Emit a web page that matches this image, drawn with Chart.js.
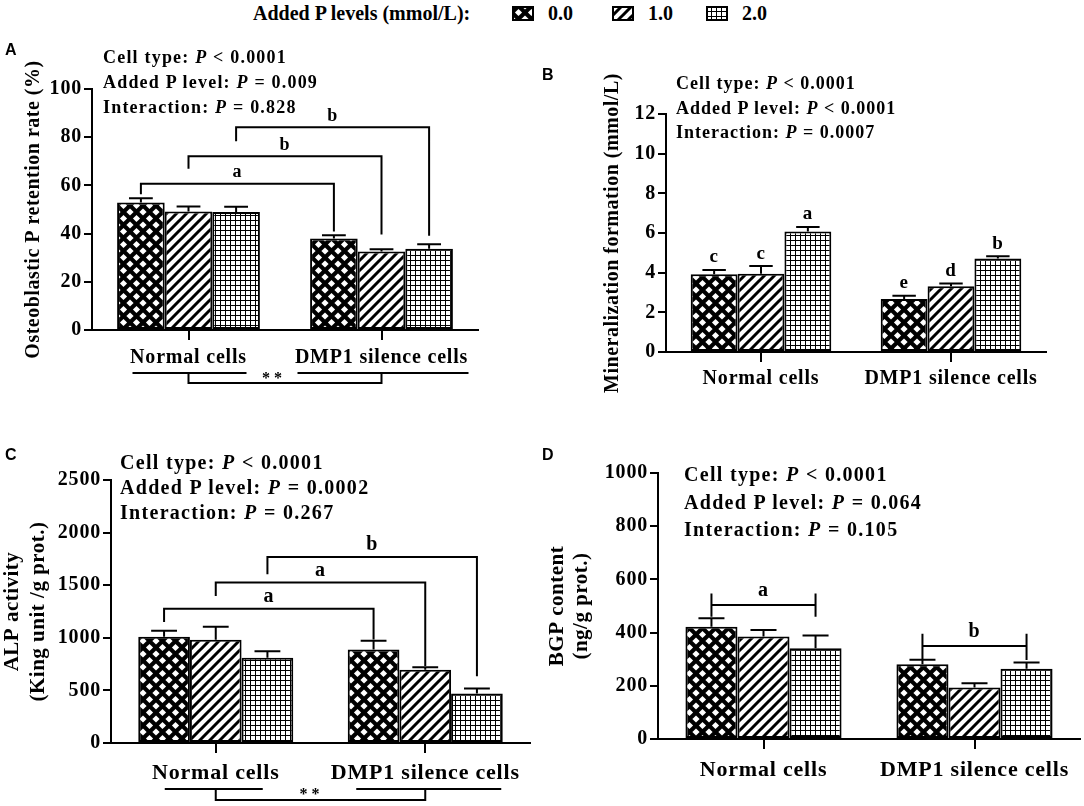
<!DOCTYPE html>
<html>
<head>
<meta charset="utf-8">
<title>Added P levels and DMP1 silence cells</title>
<script src="https://cdn.jsdelivr.net/npm/chart.js@4.4.1/dist/chart.umd.min.js"></script>
<style>
    body { margin: 0; width: 1084px; height: 806px; position: relative; overflow: hidden; background: #fff; color: #000; }
    canvas { position: absolute; }
    .txt { position: absolute; font-family: 'Liberation Serif', 'Times New Roman', serif; font-weight: bold; white-space: nowrap; }
    .letter { position: absolute; font: bold 16px 'Liberation Sans', Arial, sans-serif; line-height: 16px; }
</style>
</head>
<body>
<canvas id="chartA" width="540" height="370" style="left:0;top:30px"></canvas>
<canvas id="chartB" width="544" height="370" style="left:540px;top:30px"></canvas>
<canvas id="chartC" width="540" height="386" style="left:0;top:420px"></canvas>
<canvas id="chartD" width="544" height="386" style="left:540px;top:420px"></canvas>

<!-- legend -->
<div class="txt" style="left:253px;top:1px;font-size:20px;line-height:24px">Added P levels (mmol/L):</div>
<canvas id="sw0" width="22" height="15" style="left:512px;top:6px"></canvas>
<div class="txt" style="left:548px;top:1px;font-size:20px;line-height:24px">0.0</div>
<canvas id="sw1" width="22" height="15" style="left:612px;top:6px"></canvas>
<div class="txt" style="left:648px;top:1px;font-size:20px;line-height:24px">1.0</div>
<canvas id="sw2" width="22" height="15" style="left:706px;top:6px"></canvas>
<div class="txt" style="left:742px;top:1px;font-size:20px;line-height:24px">2.0</div>

<!-- panel letters -->
<div class="letter" style="left:5px;top:42px">A</div>
<div class="letter" style="left:542px;top:67px">B</div>
<div class="letter" style="left:5px;top:447px">C</div>
<div class="letter" style="left:542px;top:447px">D</div>

<!-- two-way ANOVA results -->
<div class="txt" style="left:103px;top:45px;font-size:18px;line-height:25px;letter-spacing:1.2px">Cell type: <i>P</i> &lt; 0.0001<br>Added P level: <i>P</i> = 0.009<br>Interaction: <i>P</i> = 0.828</div>
<div class="txt" style="left:676px;top:71px;font-size:18px;line-height:24.5px;letter-spacing:1px">Cell type: <i>P</i> &lt; 0.0001<br>Added P level: <i>P</i> &lt; 0.0001<br>Interaction: <i>P</i> = 0.0007</div>
<div class="txt" style="left:120px;top:450px;font-size:20px;line-height:25px;letter-spacing:1.3px">Cell type: <i>P</i> &lt; 0.0001<br>Added P level: <i>P</i> = 0.0002<br>Interaction: <i>P</i> = 0.267</div>
<div class="txt" style="left:684px;top:461px;font-size:20px;line-height:27.5px;letter-spacing:1.3px">Cell type: <i>P</i> &lt; 0.0001<br>Added P level: <i>P</i> = 0.064<br>Interaction: <i>P</i> = 0.105</div>

<script>
// ==================== Data ====================
const cellTypes = ['Normal cells', 'DMP1 silence cells'];
const pLevels = ['0.0', '1.0', '2.0'];

// A: osteoblastic P retention rate (%), one row per added P level
const retentionMean = [[52.9, 38.0], [49.2, 32.6], [49.0, 33.7]];
const retentionSem = [[1.8, 1.3], [2.0, 0.9], [2.1, 1.9]];
const retentionTicks = [0, 20, 40, 60, 80, 100];

// B: mineralization formation (mmol/L)
const mineralMean = [[3.92, 2.67], [3.95, 3.32], [6.08, 4.72]];
const mineralSem = [[0.21, 0.16], [0.38, 0.13], [0.22, 0.11]];
const mineralLetters = [['c', 'e'], ['c', 'd'], ['a', 'b']];
const mineralTicks = [0, 2, 4, 6, 8, 10, 12];

// C: ALP activity (King unit /g prot.)
const alpMean = [[1010, 889], [981, 696], [810, 470]];
const alpSem = [[57, 83], [124, 25], [63, 48]];
const alpTicks = [0, 500, 1000, 1500, 2000, 2500];

// D: BGP content (ng/g prot.)
const bgpMean = [[422, 281], [385, 194], [341, 264]];
const bgpSem = [[32, 17], [25, 16], [48, 24]];
const bgpTicks = [0, 200, 400, 600, 800, 1000];

// same P level, normal vs DMP1 silence cells
const retentionBrackets = [
    { level: 0, label: 'a', top: 60.7, leftEnd: 56.3, rightEnd: 40.9 },
    { level: 1, label: 'b', top: 72.1, leftEnd: 66.9, rightEnd: 39.6 },
    { level: 2, label: 'b', top: 84.1, leftEnd: 78.3, rightEnd: 39.1 }
];
const alpBrackets = [
    { level: 0, label: 'a', top: 1277, leftEnd: 1150, rightEnd: 985 },
    { level: 1, label: 'a', top: 1525, leftEnd: 1398, rightEnd: 731 },
    { level: 2, label: 'b', top: 1769, leftEnd: 1604, rightEnd: 635 }
];
// 0.0 vs 2.0 inside one cell type
const bgpBrackets = [
    { cell: 0, label: 'a', at: 504, high: 547, low: 460 },
    { cell: 1, label: 'b', at: 350, high: 396, low: 297 }
];

// ==================== Defaults ====================
Chart.defaults.font.family = "'Liberation Serif', 'Times New Roman', serif";
Chart.defaults.font.weight = 'bold';
Chart.defaults.color = '#000';

const serif = "'Liberation Serif', 'Times New Roman', serif";

// ==================== Fill patterns ====================
function makePatterns(ctx) {
    const tile = (w, h, draw) => {
        const c = document.createElement('canvas');
        c.width = w;
        c.height = h;
        draw(c.getContext('2d'), w, h);
        return ctx.createPattern(c, 'repeat');
    };

    // black with white diamonds
    const diamonds = tile(13, 13, (g, w, h) => {
        g.fillStyle = '#000';
        g.fillRect(0, 0, w, h);
        g.fillStyle = '#fff';
        const r = 3.6;
        [[0, 0], [w, 0], [0, h], [w, h], [w / 2, h / 2]].forEach(([x, y]) => {
            g.beginPath();
            g.moveTo(x, y - r);
            g.lineTo(x + r, y);
            g.lineTo(x, y + r);
            g.lineTo(x - r, y);
            g.closePath();
            g.fill();
        });
    });

    // diagonal stripes
    const stripes = tile(10, 10, (g, w, h) => {
        g.fillStyle = '#fff';
        g.fillRect(0, 0, w, h);
        g.strokeStyle = '#000';
        g.lineWidth = 3;
        g.beginPath();
        for (let k = -1; k <= 1; k++) {
            g.moveTo(k * w - 1, h + 1);
            g.lineTo(k * w + w + 1, -1);
        }
        g.stroke();
    });

    // fine square grid
    const grid = tile(5, 5, (g, w, h) => {
        g.fillStyle = '#fff';
        g.fillRect(0, 0, w, h);
        g.fillStyle = '#000';
        g.fillRect(0, 0, w, 1);
        g.fillRect(0, 0, 1, h);
    });

    return [diamonds, stripes, grid];
}

// ==================== Plugins ====================
// wider letter spacing for axis text, like the original export
const spacedText = {
    id: 'spacedText',
    beforeDraw(chart) { chart.ctx.letterSpacing = '0.8px'; },
    afterDraw(chart) { chart.ctx.letterSpacing = '0px'; }
};

const errorBars = {
    id: 'errorBars',
    afterDatasetsDraw(chart) {
        const { ctx } = chart;
        const y = chart.scales.y;
        ctx.save();
        ctx.strokeStyle = '#000';
        ctx.lineWidth = 2;
        chart.data.datasets.forEach((ds, i) => {
            chart.getDatasetMeta(i).data.forEach((bar, j) => {
                const top = y.getPixelForValue(ds.data[j] + ds.sem[j]);
                const half = bar.width / 4;
                ctx.beginPath();
                ctx.moveTo(bar.x, bar.y);
                ctx.lineTo(bar.x, top);
                ctx.moveTo(bar.x - half, top);
                ctx.lineTo(bar.x + half, top);
                ctx.stroke();
            });
        });
        ctx.restore();
    }
};

const yTitle = {
    id: 'yTitle',
    afterDraw(chart, args, opts) {
        const { ctx, chartArea } = chart;
        const cy = (chartArea.top + chartArea.bottom) / 2;
        ctx.save();
        ctx.font = `bold ${opts.size}px ${serif}`;
        ctx.letterSpacing = opts.spacing || '0px';
        ctx.fillStyle = '#000';
        ctx.textAlign = 'center';
        ctx.textBaseline = 'middle';
        opts.lines.forEach((line, i) => {
            ctx.save();
            ctx.translate(opts.x[i], cy);
            ctx.rotate(-Math.PI / 2);
            ctx.fillText(line, 0, 0);
            ctx.restore();
        });
        ctx.restore();
    }
};

// letters straight above each error bar (panel B)
const barLetters = {
    id: 'barLetters',
    afterDatasetsDraw(chart, args, opts) {
        if (!opts.letters) return;
        const { ctx } = chart;
        const y = chart.scales.y;
        ctx.save();
        ctx.font = `bold ${opts.size}px ${serif}`;
        ctx.fillStyle = '#000';
        ctx.textAlign = 'center';
        ctx.textBaseline = 'bottom';
        chart.data.datasets.forEach((ds, i) => {
            chart.getDatasetMeta(i).data.forEach((bar, j) => {
                const top = y.getPixelForValue(ds.data[j] + ds.sem[j]);
                ctx.fillText(opts.letters[i][j], bar.x, top - 3);
            });
        });
        ctx.restore();
    }
};

// bracket from a bar of normal cells to the same bar of DMP1 cells (A, C)
const levelBrackets = {
    id: 'levelBrackets',
    afterDatasetsDraw(chart, args, opts) {
        if (!opts.items) return;
        const { ctx } = chart;
        const y = chart.scales.y;
        ctx.save();
        ctx.strokeStyle = '#000';
        ctx.fillStyle = '#000';
        ctx.lineWidth = 2;
        ctx.font = `bold ${opts.size}px ${serif}`;
        ctx.textAlign = 'center';
        ctx.textBaseline = 'bottom';
        opts.items.forEach(b => {
            const bars = chart.getDatasetMeta(b.level).data;
            const lx = bars[0].x, rx = bars[1].x;
            const ty = y.getPixelForValue(b.top);
            ctx.beginPath();
            ctx.moveTo(lx, y.getPixelForValue(b.leftEnd));
            ctx.lineTo(lx, ty);
            ctx.lineTo(rx, ty);
            ctx.lineTo(rx, y.getPixelForValue(b.rightEnd));
            ctx.stroke();
            ctx.fillText(b.label, (lx + rx) / 2, ty - 2);
        });
        ctx.restore();
    }
};

// bracket spanning the 0.0 and 2.0 bars of one cell type (D)
const spanBrackets = {
    id: 'spanBrackets',
    afterDatasetsDraw(chart, args, opts) {
        if (!opts.items) return;
        const { ctx } = chart;
        const y = chart.scales.y;
        ctx.save();
        ctx.strokeStyle = '#000';
        ctx.fillStyle = '#000';
        ctx.lineWidth = 2;
        ctx.font = `bold ${opts.size}px ${serif}`;
        ctx.textAlign = 'center';
        ctx.textBaseline = 'bottom';
        opts.items.forEach(b => {
            const lx = chart.getDatasetMeta(0).data[b.cell].x;
            const rx = chart.getDatasetMeta(2).data[b.cell].x;
            const yy = y.getPixelForValue(b.at);
            const hi = y.getPixelForValue(b.high), lo = y.getPixelForValue(b.low);
            ctx.beginPath();
            ctx.moveTo(lx, yy);
            ctx.lineTo(rx, yy);
            ctx.moveTo(lx, hi);
            ctx.lineTo(lx, lo);
            ctx.moveTo(rx, hi);
            ctx.lineTo(rx, lo);
            ctx.stroke();
            ctx.fillText(b.label, (lx + rx) / 2, yy - 4);
        });
        ctx.restore();
    }
};

// underlines below the cell labels joined by a ** bracket (A, C)
const cellTypeBracket = {
    id: 'cellTypeBracket',
    afterDraw(chart, args, opts) {
        if (!opts.under) return;
        const { ctx, chartArea } = chart;
        const x = chart.scales.x;
        const x0 = x.getPixelForValue(0), x1 = x.getPixelForValue(1);
        const ly = chartArea.bottom + opts.lineDy;
        const by = chartArea.bottom + opts.dropDy;
        const u = opts.under;
        ctx.save();
        ctx.strokeStyle = '#000';
        ctx.fillStyle = '#000';
        ctx.lineWidth = 2;
        ctx.beginPath();
        ctx.moveTo(x0 + u[0], ly);
        ctx.lineTo(x0 + u[1], ly);
        ctx.moveTo(x1 + u[2], ly);
        ctx.lineTo(x1 + u[3], ly);
        ctx.moveTo(x0, ly);
        ctx.lineTo(x0, by);
        ctx.lineTo(x1, by);
        ctx.lineTo(x1, ly);
        ctx.stroke();
        ctx.font = `bold 16px ${serif}`;
        ctx.textAlign = 'center';
        ctx.textBaseline = 'alphabetic';
        ctx.fillText('* *', (x0 + u[1] + x1 + u[2]) / 2, ly + 10);
        ctx.restore();
    }
};

// ==================== Chart factory ====================
// box.canvas = [left, top, width, height], box.plot = [left, top, right, bottom], page px
function makeChart(id, box, cfg) {
    const ctx = document.getElementById(id).getContext('2d');
    const patterns = makePatterns(ctx);
    const [cl, ct, cw, ch] = box.canvas;
    const [pl, pt, pr, pb] = box.plot;

    const datasets = pLevels.map((lvl, i) => ({
        label: lvl,
        data: cfg.means[i],
        sem: cfg.sems[i],
        backgroundColor: patterns[i],
        borderColor: '#000',
        borderWidth: 2,
        borderSkipped: false,
        categoryPercentage: 0.74,
        barPercentage: 1.0
    }));

    return new Chart(ctx, {
        type: 'bar',
        data: { labels: cellTypes, datasets },
        options: {
            responsive: false,
            animation: false,
            layout: { padding: { left: 0, top: pt - ct, right: cl + cw - pr, bottom: 0 } },
            plugins: {
                legend: { display: false },
                tooltip: { enabled: false },
                yTitle: cfg.yTitle,
                barLetters: cfg.barLetters || {},
                levelBrackets: cfg.levelBrackets || {},
                spanBrackets: cfg.spanBrackets || {},
                cellTypeBracket: cfg.cellTypeBracket || {}
            },
            scales: {
                x: {
                    afterFit: s => { s.height = ct + ch - pb; },
                    grid: { offset: false, drawOnChartArea: false, tickLength: 10, lineWidth: 2, color: '#000' },
                    border: { color: '#000', width: 2 },
                    ticks: { font: { size: cfg.xFont, weight: 'bold' }, color: '#000', padding: cfg.xPad, maxRotation: 0 }
                },
                y: {
                    min: cfg.ticks[0],
                    max: cfg.ticks[cfg.ticks.length - 1],
                    afterFit: s => { s.width = pl - cl; },
                    afterBuildTicks: s => { s.ticks = cfg.ticks.map(v => ({ value: v })); },
                    grid: { drawOnChartArea: false, tickLength: 8, lineWidth: 2, color: '#000' },
                    border: { color: '#000', width: 2 },
                    ticks: {
                        font: { size: 20, weight: 'bold' },
                        color: '#000',
                        padding: 2,
                        callback: v => String(v)
                    }
                }
            }
        },
        plugins: [spacedText, errorBars, yTitle, barLetters, levelBrackets, spanBrackets, cellTypeBracket]
    });
}

// ==================== Panels ====================
makeChart('chartA', { canvas: [0, 30, 540, 370], plot: [92, 89, 478, 330] }, {
    means: retentionMean, sems: retentionSem, ticks: retentionTicks,
    xFont: 20, xPad: 6,
    yTitle: { lines: ['Osteoblastic P retention rate (%)'], x: [34], size: 20, spacing: '0.5px' },
    levelBrackets: { items: retentionBrackets, size: 18 },
    cellTypeBracket: { under: [-56, 58, -84, 87], lineDy: 43, dropDy: 53 }
});

makeChart('chartB', { canvas: [540, 30, 544, 370], plot: [666, 114, 1046, 352] }, {
    means: mineralMean, sems: mineralSem, ticks: mineralTicks,
    xFont: 20, xPad: 5,
    yTitle: { lines: ['Mineralization formation (mmol/L)'], x: [73], size: 20, spacing: '0.5px' },
    barLetters: { letters: mineralLetters, size: 19 }
});

makeChart('chartC', { canvas: [0, 420, 540, 386], plot: [111, 480, 530, 743] }, {
    means: alpMean, sems: alpSem, ticks: alpTicks,
    xFont: 22, xPad: 7,
    yTitle: { lines: ['ALP activity', '(King unit /g prot.)'], x: [13, 39], size: 21, spacing: '0.5px' },
    levelBrackets: { items: alpBrackets, size: 20 },
    cellTypeBracket: { under: [-51, 47, -69, 76], lineDy: 46, dropDy: 57 }
});

makeChart('chartD', { canvas: [540, 420, 544, 386], plot: [658, 473, 1080, 739] }, {
    means: bgpMean, sems: bgpSem, ticks: bgpTicks,
    xFont: 22, xPad: 8,
    yTitle: { lines: ['BGP content', '(ng/g prot.)'], x: [18, 42], size: 21, spacing: '0.5px' },
    spanBrackets: { items: bgpBrackets, size: 20 }
});

// ==================== Legend swatches ====================
['sw0', 'sw1', 'sw2'].forEach((id, i) => {
    const c = document.getElementById(id);
    const g = c.getContext('2d');
    g.fillStyle = makePatterns(g)[i];
    g.fillRect(0, 0, c.width, c.height);
    g.strokeStyle = '#000';
    g.lineWidth = 2;
    g.strokeRect(1, 1, c.width - 2, c.height - 2);
});
</script>
</body>
</html>
